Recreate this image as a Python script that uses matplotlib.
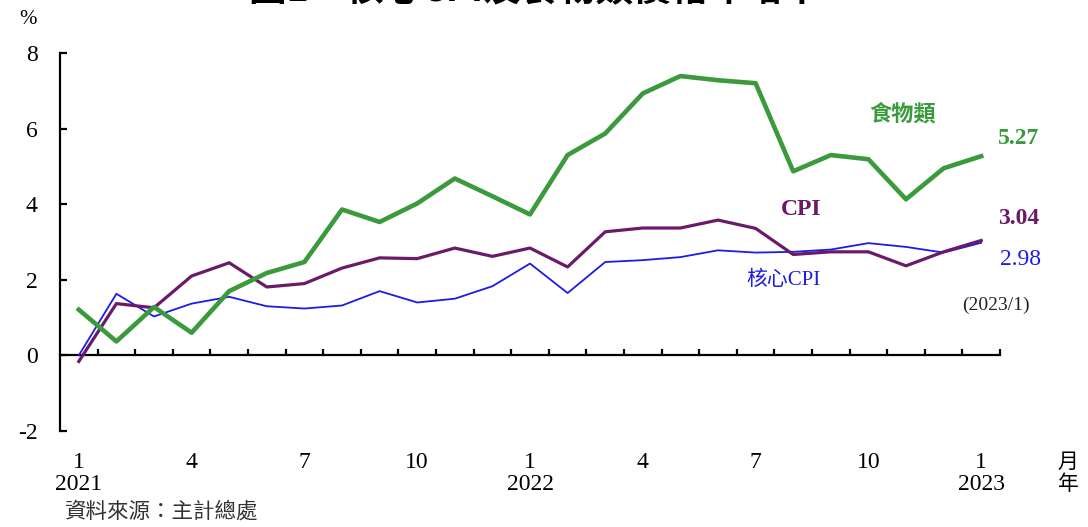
import numpy as np
import matplotlib
matplotlib.use("Agg")
import matplotlib.pyplot as plt
import matplotlib.transforms as mtransforms

plt.rcParams['font.family'] = ['Liberation Serif', 'Noto Sans CJK TC', 'DejaVu Sans']

# 2021/1 ~ 2023/1 年增率 (%)
months = list(range(25))
food = [1.21, 0.37, 1.28, 0.60, 1.70, 2.18, 2.47, 3.86, 3.53, 4.02, 4.68, 4.21, 3.73,
        5.30, 5.87, 6.93, 7.39, 7.28, 7.20, 4.87, 5.30, 5.19, 4.13, 4.95, 5.27]
cpi = [-0.16, 1.37, 1.26, 2.10, 2.45, 1.81, 1.90, 2.31, 2.58, 2.56, 2.84, 2.62, 2.84,
       2.34, 3.27, 3.37, 3.37, 3.58, 3.36, 2.67, 2.74, 2.74, 2.37, 2.74, 3.04]
core = [0.0, 1.63, 1.03, 1.37, 1.55, 1.30, 1.24, 1.32, 1.70, 1.40, 1.50, 1.83, 2.43,
        1.65, 2.47, 2.52, 2.60, 2.78, 2.72, 2.74, 2.80, 2.97, 2.87, 2.72, 2.98]
month_labels = ['1', '4', '7', '10', '1', '4', '7', '10', '1']
year_labels = {0: '2021', 12: '2022', 24: '2023'}
yticks = [-2, 0, 2, 4, 6, 8]

c_food = '#3b9a3b'
c_cpi = '#6a1a68'
c_core = '#1c1ce6'

fig = plt.figure(figsize=(10.88, 5.27), dpi=100)
ax = fig.add_axes([60 / 1088, 96 / 527, 940 / 1088, 378 / 527])

ax.plot(months, core, color=c_core, lw=1.3, zorder=3)
ax.plot(months, cpi, color=c_cpi, lw=2.3, zorder=4)
ax.plot(months, food, color=c_food, lw=3.3, zorder=5)

ax.set_xlim(-0.5, 24.5)
ax.set_ylim(-2, 8)

for s in ['top', 'right']:
    ax.spines[s].set_visible(False)
ax.spines['bottom'].set_position(('data', 0))
ax.spines['left'].set_linewidth(1.6)
ax.spines['bottom'].set_linewidth(1.6)

ax.set_yticks(yticks)
ax.set_yticklabels([str(v) for v in yticks], fontsize=17)
ax.tick_params(axis='y', direction='in', length=5, width=1.6, pad=16)
ax.set_xticks(np.arange(0.5, 25, 1))
ax.set_xticklabels([])
ax.tick_params(axis='x', direction='in', length=4, width=1.6)

# 月份 / 年份標籤
trans = mtransforms.blended_transform_factory(ax.transData, fig.transFigure)
for i, lab in zip(range(0, 25, 3), month_labels):
    ax.text(i, 1 - 462 / 527, lab, transform=trans, ha='center', va='center', fontsize=17)
for i, lab in year_labels.items():
    ax.text(i, 1 - 484 / 527, lab, transform=trans, ha='center', va='center', fontsize=17)
fig.text(1068 / 1088, 1 - 462 / 527, '月', ha='center', va='center', fontsize=15,
         family=['Noto Sans CJK TC'])
fig.text(1068 / 1088, 1 - 484 / 527, '年', ha='center', va='center', fontsize=15,
         family=['Noto Sans CJK TC'])
fig.text(28 / 1088, 1 - 19 / 527, '%', ha='center', va='center', fontsize=15)
fig.text(65 / 1088, 1 - 512 / 527, '資料來源：主計總處', ha='left', va='center', fontsize=15.5,
         family=['Noto Sans CJK TC'], color='#333333')

# 標題 (上半部被裁掉, 同原圖)
fig.text(535 / 1088, 1 + 10 / 527, '圖1　核心CPI及食物類價格年增率', ha='center', va='center',
         fontsize=27, fontweight='bold', family=['Noto Sans CJK TC'])

# 數列標示
ax.text(21.9, 6.4, '食物類', color=c_food, fontsize=16, fontweight='bold',
        family=['Noto Sans CJK TC'], ha='center', va='center')
ax.text(24.45, 5.75, '5.27', color=c_food, fontsize=17, fontweight='bold',
        ha='left', va='center')
ax.text(19.2, 3.87, 'CPI', color=c_cpi, fontsize=17, fontweight='bold',
        ha='center', va='center')
ax.text(24.45, 3.63, '3.04', color=c_cpi, fontsize=17, fontweight='bold',
        ha='left', va='center')
ax.text(24.5, 2.55, '2.98', color=c_core, fontsize=17, ha='left', va='center')
ax.text(18.75, 1.99, '核心CPI', color=c_core, fontsize=15, ha='center', va='center',
        family=['Liberation Serif', 'Noto Sans CJK TC'])
ax.text(24.4, 1.32, '(2023/1)', color='#222222', fontsize=14, ha='center', va='center')

fig.savefig('out.png', dpi=100)
